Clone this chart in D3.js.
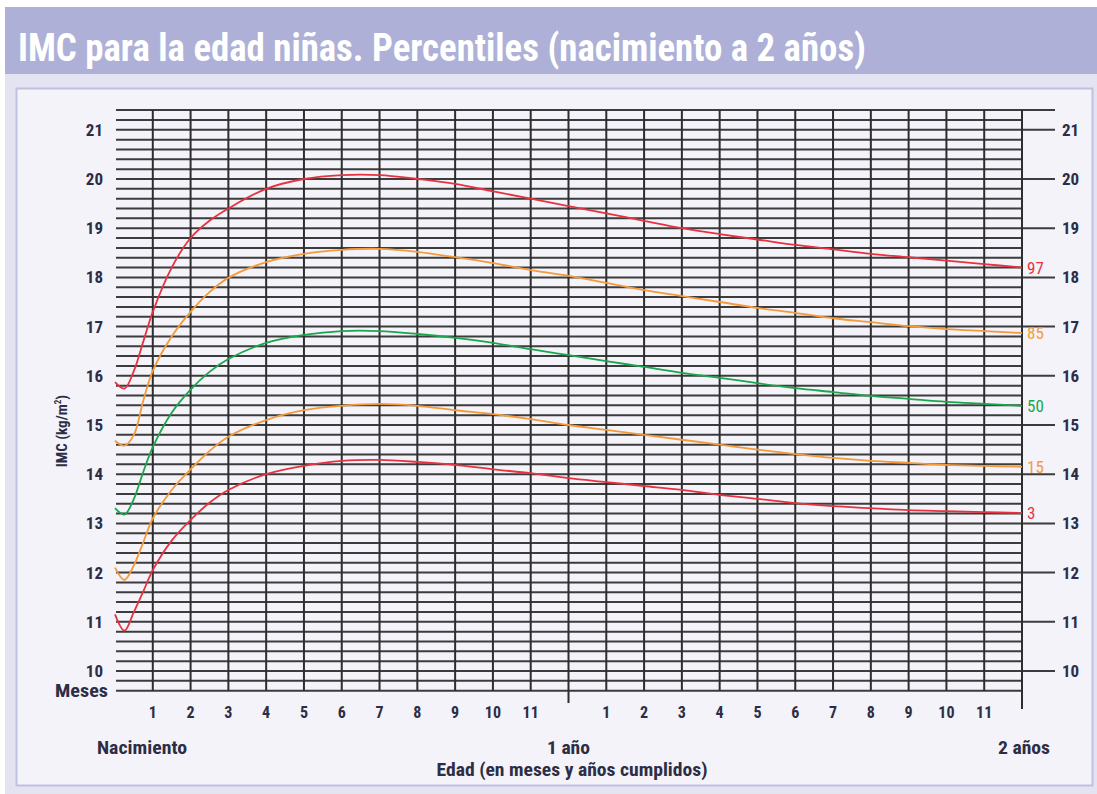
<!DOCTYPE html>
<html><head><meta charset="utf-8">
<script src="https://cdn.jsdelivr.net/npm/d3@7"></script>
<style>
html,body{margin:0;padding:0;background:#fff;}
svg{display:block;}
text{font-family:'Liberation Sans Narrow','Roboto Condensed','Arial Narrow','Liberation Sans',sans-serif;font-stretch:condensed;}
</style></head>
<body>
<svg id="c" width="1097" height="794"></svg>
<script>
const title = "IMC para la edad niñas. Percentiles (nacimiento a 2 años)";
const months = [0,0.25,0.5,0.75,1,1.5,2,2.5,3,4,5,6,7,8,9,10,11,12,13,14,15,16,17,18,19,20,21,22,23,24];
const p3  = [11.15,10.82,11.2,11.62,12.05,12.65,13.07,13.42,13.68,14.0,14.17,14.27,14.29,14.25,14.19,14.1,14.02,13.92,13.84,13.76,13.68,13.58,13.5,13.41,13.35,13.31,13.27,13.25,13.23,13.21];
const p15 = [12.1,11.85,12.15,12.62,13.1,13.68,14.1,14.47,14.76,15.1,15.3,15.39,15.43,15.39,15.3,15.22,15.12,15.0,14.9,14.8,14.7,14.6,14.5,14.41,14.33,14.27,14.23,14.19,14.17,14.15];
const p50 = [13.31,13.18,13.5,14.05,14.55,15.25,15.72,16.08,16.34,16.67,16.83,16.91,16.91,16.85,16.77,16.67,16.54,16.42,16.3,16.18,16.06,15.96,15.85,15.75,15.67,15.59,15.53,15.47,15.43,15.39];
const p85 = [14.68,14.58,14.8,15.5,16.1,16.8,17.3,17.7,17.99,18.31,18.48,18.56,18.58,18.52,18.41,18.29,18.15,18.03,17.89,17.74,17.62,17.5,17.38,17.28,17.17,17.09,17.01,16.95,16.91,16.87];
const p97 = [15.87,15.74,16.1,16.7,17.3,18.2,18.8,19.15,19.4,19.8,20.0,20.08,20.08,20.0,19.9,19.75,19.6,19.45,19.3,19.15,19.0,18.88,18.77,18.66,18.57,18.48,18.41,18.34,18.27,18.2];
const yTicks = [10,11,12,13,14,15,16,17,18,19,20,21];
const monthTicks = [1,2,3,4,5,6,7,8,9,10,11,13,14,15,16,17,18,19,20,21,22,23];
const monthLabels = ["1","2","3","4","5","6","7","8","9","10","11","1","2","3","4","5","6","7","8","9","10","11"];
const yearMarks = [0,12,24];
const yearLabels = ["Nacimiento","1 año","2 años"];

const series = [
  {name:"97", values:p97, color:"#e8323f"},
  {name:"85", values:p85, color:"#f59a3a"},
  {name:"50", values:p50, color:"#1aa64b"},
  {name:"15", values:p15, color:"#f59a3a"},
  {name:"3",  values:p3,  color:"#e8323f"}
];

const svg = d3.select("#c");
const x = d3.scaleLinear().domain([0,24]).range([115,1022]);
const y = d3.scaleLinear().domain([10,20]).range([671,179]);

// backgrounds
svg.append("rect").attr("x",5).attr("y",7).attr("width",1092).attr("height",787).attr("fill","#e3e3f1");
svg.append("rect").attr("x",5).attr("y",7).attr("width",1092).attr("height",67).attr("fill","#aeb0d8");
svg.append("rect").attr("x",16.5).attr("y",88.5).attr("width",1076).attr("height",697)
  .attr("fill","#f3f3f9").attr("stroke","#bfc1e2").attr("stroke-width",2);

svg.append("text").attr("x",18).attr("y",61).text(title)
  .attr("fill","#fff").attr("font-size",38).attr("font-weight","bold")
  .attr("textLength",848).attr("lengthAdjust","spacingAndGlyphs");

// horizontal grid lines every 0.2
const hLines = d3.range(48,108).map(i=>i/5);
const g = svg.append("g");
g.selectAll("line.h").data(hLines).join("line")
  .attr("x1",x(0)+1).attr("x2",x(24))
  .attr("y1",d=>y(d)).attr("y2",d=>y(d))
  .attr("stroke","#3c3c3c").attr("stroke-width",2);

// right extended ticks at whole values + top
const rightTicks = yTicks.concat([21.4]);
g.selectAll("line.r").data(rightTicks).join("line")
  .attr("x1",x(24)).attr("x2",1055)
  .attr("y1",d=>y(d)).attr("y2",d=>y(d))
  .attr("stroke","#3c3c3c").attr("stroke-width",2);

// vertical lines
const vLines = d3.range(1,25);
g.selectAll("line.v").data(vLines).join("line")
  .attr("x1",d=>x(d)).attr("x2",d=>x(d))
  .attr("y1",y(21.4)).attr("y2",d=> d===12 ? 703 : (d===24 ? 709 : y(9.6)))
  .attr("stroke","#2e2e2e").attr("stroke-width",2);

// curves
const line = d3.line().x((d,i)=>x(months[i])).y(d=>y(d)).curve(d3.curveCatmullRom.alpha(0.5));
series.forEach(s=>{
  svg.append("path").attr("d",line(s.values)).attr("fill","none")
    .attr("stroke",s.color).attr("stroke-width",1.8);
  svg.append("text").attr("x",x(24)+5).attr("y",y(s.values[s.values.length-1])+6)
    .text(s.name).attr("fill",s.color).attr("font-size",17);
});

const txtCol = "#2d2d45";
// left axis labels
svg.append("g").selectAll("text").data(yTicks).join("text")
  .attr("x",103).attr("y",d=>y(d)+6).attr("text-anchor","end")
  .attr("font-size",17).attr("font-weight","bold").attr("fill",txtCol).text(d=>d);
// right axis labels
svg.append("g").selectAll("text").data(yTicks).join("text")
  .attr("x",1062).attr("y",d=>y(d)+6).attr("text-anchor","start")
  .attr("font-size",17).attr("font-weight","bold").attr("fill",txtCol).text(d=>d);

// month labels
svg.append("g").selectAll("text").data(monthTicks).join("text")
  .attr("x",d=>x(d)).attr("y",718).attr("text-anchor","middle")
  .attr("font-size",16).attr("font-weight","bold").attr("fill",txtCol).text((d,i)=>monthLabels[i]);

svg.append("text").attr("x",55).attr("y",697).text("Meses")
  .attr("font-size",18).attr("font-weight","bold").attr("fill",txtCol)
  .attr("textLength",53).attr("lengthAdjust","spacingAndGlyphs");

const yearLens = [90,43,52];
svg.append("g").selectAll("text").data(yearMarks).join("text")
  .attr("x",(d,i)=> i===0 ? x(d)+27 : (i===2 ? x(d)+2 : x(d)))
  .attr("y",754).attr("text-anchor","middle")
  .attr("font-size",18).attr("font-weight","bold").attr("fill",txtCol)
  .attr("textLength",(d,i)=>yearLens[i]).attr("lengthAdjust","spacingAndGlyphs")
  .text((d,i)=>yearLabels[i]);

svg.append("text").attr("x",572).attr("y",776).attr("text-anchor","middle")
  .text("Edad (en meses y años cumplidos)")
  .attr("font-size",18).attr("font-weight","bold").attr("fill",txtCol)
  .attr("textLength",271).attr("lengthAdjust","spacingAndGlyphs");

const yl = svg.append("text").attr("transform","translate(67,431) rotate(-90)")
  .attr("text-anchor","middle").attr("font-size",15).attr("font-weight","bold").attr("fill",txtCol);
yl.append("tspan").text("IMC (kg/m");
yl.append("tspan").text("2").attr("font-size",9).attr("dy",-6);
yl.append("tspan").text(")").attr("dy",6);
</script>
</body></html>
